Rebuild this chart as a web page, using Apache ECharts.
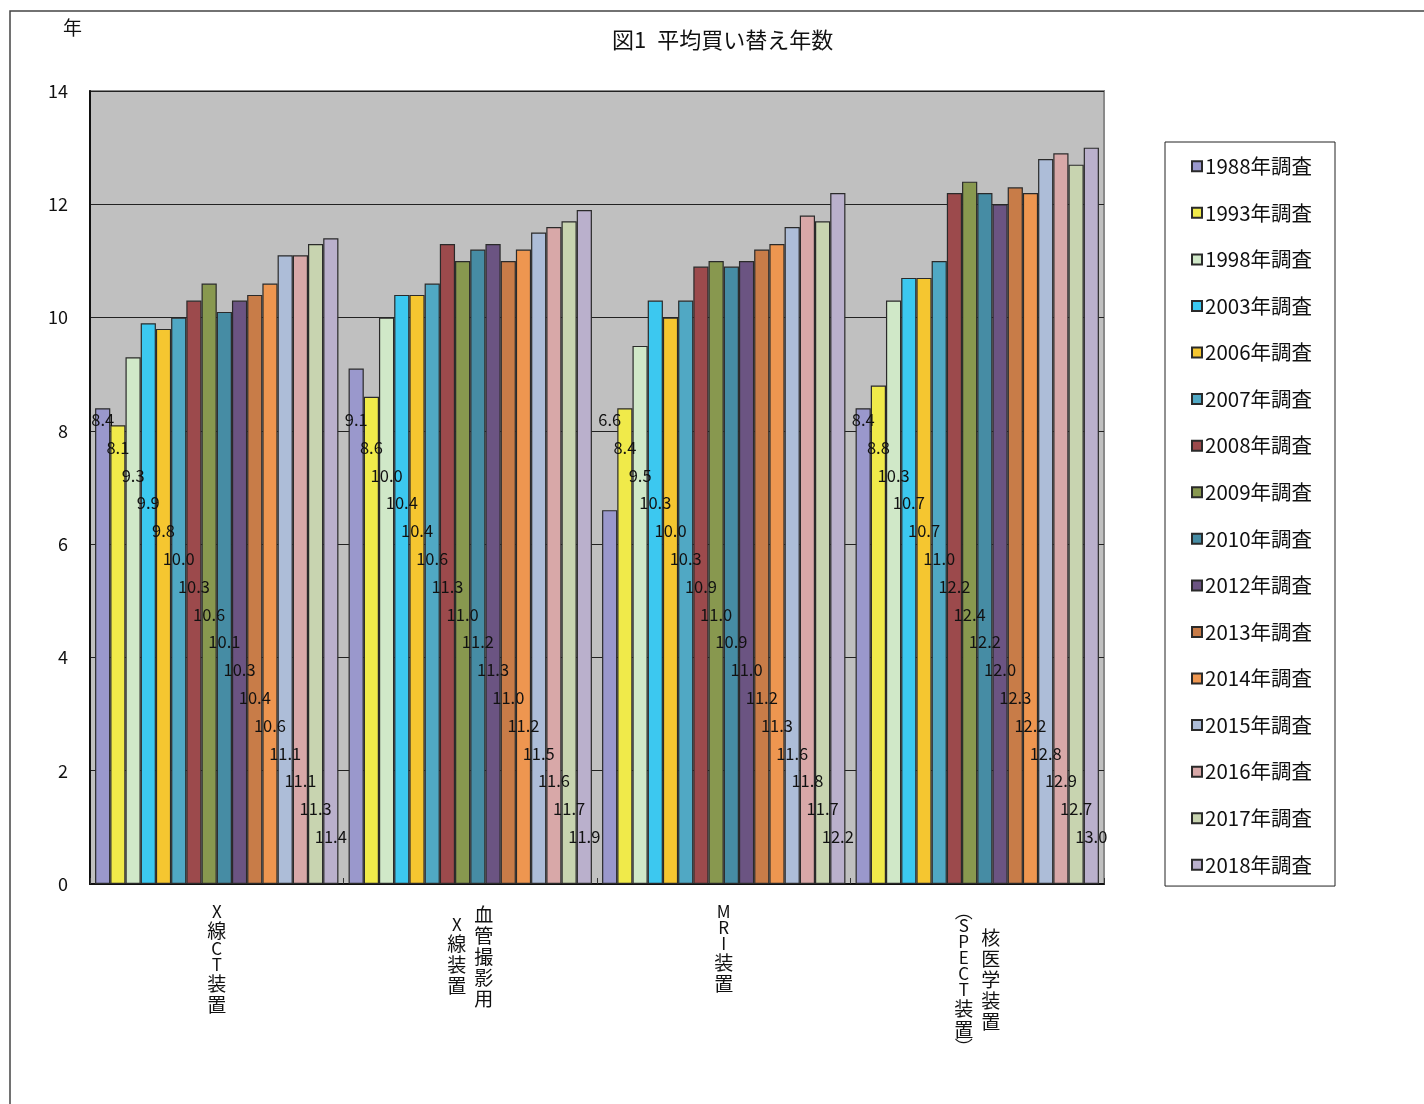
<!DOCTYPE html>
<html>
<head>
<meta charset="utf-8">
<script src="https://cdn.jsdelivr.net/npm/echarts@6/dist/echarts.min.js"></script>
<style>
html,body{margin:0;padding:0;background:#fff;}
#chart{width:1424px;height:1104px;}
</style>
</head>
<body>
<div id="chart"></div>
<script>
// ---- data ----
const categories = ['X線CT装置', '血管撮影用X線装置', 'MRI装置', '核医学装置（SPECT装置）'];
// vertical label columns (right column first, as in vertical Japanese writing)
const categoryColumns = [
  ['X線CT装置'],
  ['血管撮影用', 'X線装置'],
  ['MRI装置'],
  ['核医学装置', '︵SPECT装置︶']
];
const seriesNames = ['1988年調査','1993年調査','1998年調査','2003年調査','2006年調査','2007年調査','2008年調査','2009年調査','2010年調査','2012年調査','2013年調査','2014年調査','2015年調査','2016年調査','2017年調査','2018年調査'];
const xrayCT   = [8.4, 8.1, 9.3, 9.9, 9.8, 10.0, 10.3, 10.6, 10.1, 10.3, 10.4, 10.6, 11.1, 11.1, 11.3, 11.4];
const angio    = [9.1, 8.6, 10.0, 10.4, 10.4, 10.6, 11.3, 11.0, 11.2, 11.3, 11.0, 11.2, 11.5, 11.6, 11.7, 11.9];
const mri      = [6.6, 8.4, 9.5, 10.3, 10.0, 10.3, 10.9, 11.0, 10.9, 11.0, 11.2, 11.3, 11.6, 11.8, 11.7, 12.2];
const nuclear  = [8.4, 8.8, 10.3, 10.7, 10.7, 11.0, 12.2, 12.4, 12.2, 12.0, 12.3, 12.2, 12.8, 12.9, 12.7, 13.0];
const yTicks = [0, 2, 4, 6, 8, 10, 12, 14];

const colors = ['#9a98cc','#f0ea4a','#d0e8c8','#3cc8f0','#f5c630','#50a8c4','#9c4a4c','#88984f','#468ca4','#6b5482','#c87c48','#ee9650','#adbdd8','#d8a8a8','#c8d4b0','#bab0cc'];

const groups = [xrayCT, angio, mri, nuclear];
const FONT = '"Noto Sans CJK JP", "Noto Sans", sans-serif';

// vertical text helpers
const LH_CJK = 21, LH_LAT = 16, LH_PAR = 14;
function charStyle(ch) {
  if (/[︵︶]/.test(ch)) return 'p';
  if (/[\x20-\x7e]/.test(ch)) return 'l';
  return 'c';
}
function colHeight(s) {
  return Array.from(s).reduce((h, ch) => {
    const t = charStyle(ch);
    return h + (t === 'c' ? LH_CJK : t === 'l' ? LH_LAT : LH_PAR);
  }, 0);
}
// which: 0 = right (or single) column, 1 = left column
function labelFor(index, which) {
  const cols = categoryColumns[index];
  if (which === 1 && cols.length < 2) return '';
  if (cols.length === 1) {
    return Array.from(cols[0]).map(ch => '{' + charStyle(ch) + '|' + ch + '}').join('\n');
  }
  const hR = colHeight(cols[0]), hL = colHeight(cols[1]);
  const s = which === 0 ? cols[0] : cols[1];
  const pad = which === 0 ? Math.max(0, (hL - hR) / 2) : Math.max(0, (hR - hL) / 2);
  const lines = [];
  if (pad > 0) lines.push('{s' + Math.min(40, Math.round(pad)) + '|\u3000}');
  Array.from(s).forEach(ch => {
    const tok = '{' + charStyle(ch) + '|' + ch + '}';
    lines.push(which === 0 ? '{sp|}' + tok : tok + '{sp|}');
  });
  return lines.join('\n');
}
const baseRich = {
  c: { fontSize: 19, lineHeight: LH_CJK, width: 19, align: 'center', color: '#111', fontFamily: FONT },
  l: { fontSize: 17, lineHeight: LH_LAT, width: 19, align: 'center', color: '#111', fontFamily: FONT },
  p: { fontSize: 18, lineHeight: LH_PAR, width: 19, align: 'center', color: '#111', fontFamily: FONT },
  sp: { width: 27 }
};
for (let k = 1; k <= 40; k++) baseRich['s' + k] = { fontSize: 1, lineHeight: k, color: 'transparent' };

const series = seriesNames.map((name, i) => ({
  name: name,
  type: 'bar',
  data: groups.map(g => g[i]),
  barGap: '0%',
  barCategoryGap: '4%',
  itemStyle: { color: colors[i], borderColor: '#2a2a2a', borderWidth: 1.2 },
  label: {
    show: true,
    position: 'insideBottom',
    distance: 456 - 27.8 * i,
    formatter: p => p.value.toFixed(1),
    color: '#111',
    fontSize: 16.5,
    fontFamily: FONT
  },
  emphasis: { disabled: true }
}));

const chart = echarts.init(document.getElementById('chart'), null, { renderer: 'canvas' });
chart.setOption({
  animation: false,
  color: colors,
  title: {
    text: '図1\u2002平均買い替え年数',
    left: 607,
    top: 24,
    textStyle: { fontSize: 22, fontWeight: 'normal', color: '#111', fontFamily: FONT }
  },
  graphic: [{
    type: 'rect',
    shape: { x: 10, y: 11, width: 1500, height: 1200 },
    style: { fill: 'none', stroke: '#444', lineWidth: 1.5 },
    silent: true,
    z: -1
  }],
  legend: {
    orient: 'vertical',
    left: 1165,
    top: 142,
    padding: [14, 23, 11, 26],
    itemGap: 26.07,
    itemWidth: 10,
    itemHeight: 10,
    icon: 'rect',
    borderColor: '#222',
    borderWidth: 1,
    textStyle: { fontSize: 20.5, color: '#111', fontFamily: FONT, lineHeight: 20, padding: [0, 0, 0, -2] },
    data: seriesNames
  },
  grid: {
    left: 90, top: 91, width: 1014, height: 793,
    show: true,
    backgroundColor: '#c0c0c0',
    borderColor: '#8a8a8a',
    borderWidth: 2
  },
  xAxis: [{
    type: 'category',
    data: categories,
    axisLine: { lineStyle: { color: '#111', width: 2 } },
    axisTick: { show: true, inside: true, length: 6, lineStyle: { color: '#333' } },
    axisLabel: {
      interval: 0,
      margin: 20,
      formatter: (v, idx) => labelFor(idx, 0),
      rich: baseRich
    }
  }, {
    type: 'category',
    data: categories,
    position: 'bottom',
    axisLine: { show: false },
    axisTick: { show: false },
    splitLine: { show: false },
    axisLabel: {
      interval: 0,
      margin: 20,
      formatter: (v, idx) => labelFor(idx, 1),
      rich: baseRich
    }
  }],
  yAxis: {
    type: 'value',
    min: yTicks[0],
    max: yTicks[yTicks.length - 1],
    interval: 2,
    name: '年',
    nameLocation: 'end',
    nameGap: 54,
    nameTextStyle: { fontSize: 19, color: '#111', fontFamily: FONT, align: 'right', padding: [0, 8, 0, 0] },
    axisLine: { show: true, lineStyle: { color: '#111', width: 2 } },
    axisTick: { show: false },
    axisLabel: { margin: 22, fontSize: 18, color: '#111', fontFamily: FONT },
    splitLine: { show: true, lineStyle: { color: '#222', width: 1 } }
  },
  series: series
});
</script>
</body>
</html>
